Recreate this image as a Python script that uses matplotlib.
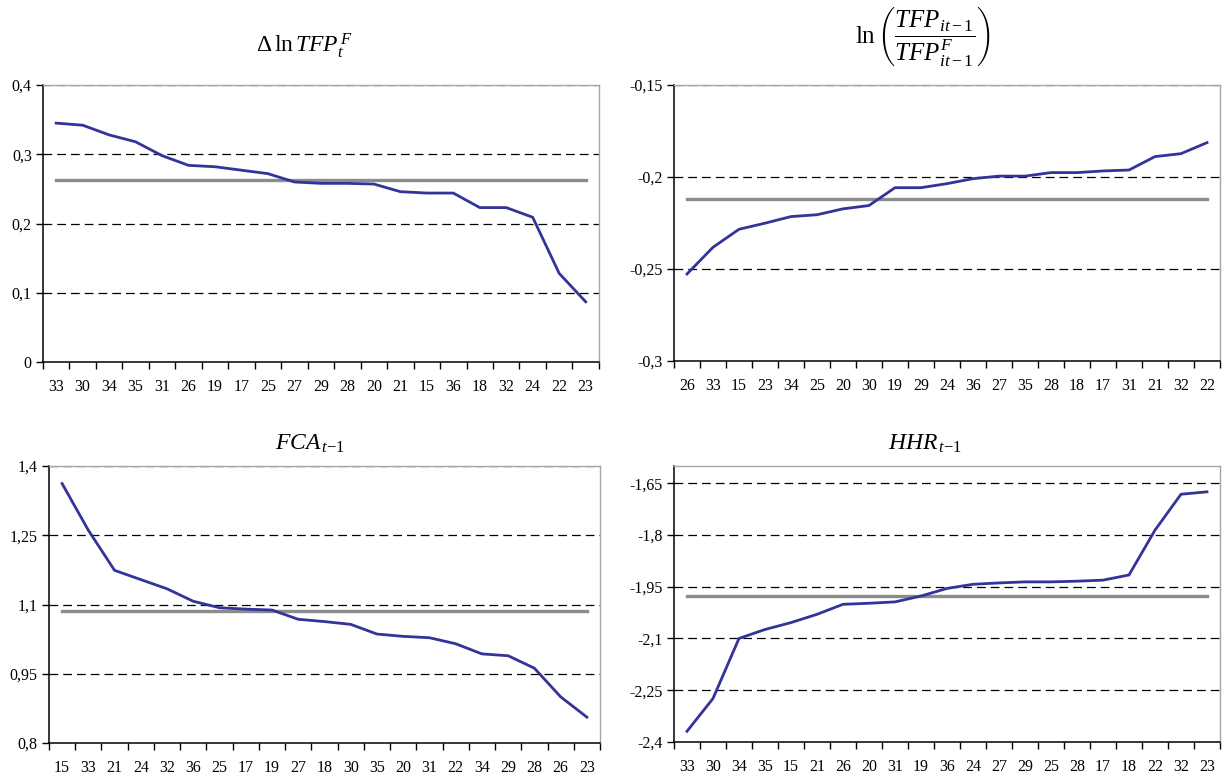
import numpy as np
import matplotlib
matplotlib.use("Agg")
import matplotlib.pyplot as plt
from matplotlib.ticker import FixedLocator, FixedFormatter

plt.rcParams['font.family'] = ['Liberation Serif', 'DejaVu Serif']
plt.rcParams['mathtext.fontset'] = 'custom'
plt.rcParams['mathtext.rm'] = 'Liberation Serif'
plt.rcParams['mathtext.it'] = 'Liberation Serif:italic'
plt.rcParams['mathtext.bf'] = 'Liberation Serif:bold'

# panel 1: d ln TFP^F
labels_tfp = ['33', '30', '34', '35', '31', '26', '19', '17', '25', '27', '29',
              '28', '20', '21', '15', '36', '18', '32', '24', '22', '23']
values_tfp = [0.345, 0.342, 0.328, 0.318, 0.298, 0.284, 0.282, 0.277, 0.272, 0.260, 0.258,
              0.258, 0.257, 0.246, 0.244, 0.244, 0.223, 0.223, 0.209, 0.128, 0.087]
mean_tfp = 0.263

# panel 2: ln(TFP / TFP^F)
labels_gap = ['26', '33', '15', '23', '34', '25', '20', '30', '19', '29', '24',
              '36', '27', '35', '28', '18', '17', '31', '21', '32', '22']
values_gap = [-0.2527, -0.2382, -0.2284, -0.2251, -0.2215, -0.2205, -0.2173, -0.2155, -0.2058, -0.2058, -0.2036,
              -0.2009, -0.1995, -0.1995, -0.1976, -0.1976, -0.1967, -0.1962, -0.1889, -0.1873, -0.1813]
mean_gap = -0.2118

# panel 3: FCA t-1
labels_fca = ['15', '33', '21', '24', '32', '36', '25', '17', '19', '27', '18',
              '30', '35', '20', '31', '22', '34', '29', '28', '26', '23']
values_fca = [1.362, 1.261, 1.174, 1.154, 1.134, 1.107, 1.093, 1.090, 1.088, 1.068, 1.063,
              1.057, 1.036, 1.031, 1.028, 1.015, 0.993, 0.989, 0.962, 0.900, 0.856]
mean_fca = 1.086

# panel 4: HHR t-1
labels_hhr = ['33', '30', '34', '35', '15', '21', '26', '20', '31', '19', '36',
              '24', '27', '29', '25', '28', '17', '18', '22', '32', '23']
values_hhr = [-2.369, -2.274, -2.100, -2.074, -2.054, -2.030, -2.001, -1.998, -1.994, -1.977, -1.955,
              -1.943, -1.939, -1.936, -1.936, -1.934, -1.931, -1.916, -1.786, -1.682, -1.675]
mean_hhr = -1.977


def fmt(v):
    s = ('%.3f' % v).rstrip('0').rstrip('.')
    if s == '-0':
        s = '0'
    return s.replace('.', ',')


def draw(ax, labels, values, mean, ymin, ymax, yticks, title, tx, tsize, tpad):
    x = np.arange(len(labels))
    for t in yticks[1:]:
        ax.axhline(t, color='black', lw=0.9, ls=(0, (7, 4)), zorder=1)
    ax.plot([x[0], x[-1]], [mean, mean], color='#8c8c8c', lw=2.4, zorder=2)
    ax.plot(x, values, color='#333399', lw=2.0, zorder=3)
    ax.set_xlim(-0.5, len(labels) - 0.5)
    ax.set_ylim(ymin, ymax)
    ax.yaxis.set_major_locator(FixedLocator(yticks))
    ax.yaxis.set_major_formatter(FixedFormatter([fmt(t) for t in yticks]))
    ax.xaxis.set_major_locator(FixedLocator(x))
    ax.xaxis.set_major_formatter(FixedFormatter(labels))
    ax.xaxis.set_minor_locator(FixedLocator(np.arange(len(labels) + 1) - 0.5))
    ax.tick_params(axis='x', which='major', length=0, pad=12, labelsize=11.5)
    ax.tick_params(axis='x', which='minor', length=5, width=1, direction='out')
    ax.tick_params(axis='y', length=5, width=1, direction='out', labelsize=11.5, pad=3)
    for s in ['left', 'bottom']:
        ax.spines[s].set_color('black')
        ax.spines[s].set_linewidth(1.1)
    for s in ['top', 'right']:
        ax.spines[s].set_color('#a6a6a6')
        ax.spines[s].set_linewidth(1.0)
    ax.set_title(title, fontsize=tsize, x=tx, pad=tpad)


fig = plt.figure(figsize=(12.27, 7.78), dpi=100)

ax1 = fig.add_axes([0.0350, 0.5347, 0.4531, 0.3560])
draw(ax1, labels_tfp, values_tfp, mean_tfp, 0, 0.4,
     [0, 0.1, 0.2, 0.3, 0.4], r'$\Delta\,\ln TFP_{t}^{\,F}$', 0.47, 17, 24)

ax2 = fig.add_axes([0.5493, 0.5360, 0.4450, 0.3547])
draw(ax2, labels_gap, values_gap, mean_gap, -0.3, -0.15,
     [-0.3, -0.25, -0.2, -0.15],
     r'$\ln\left(\dfrac{TFP_{it-1}}{TFP_{it-1}^{F}}\right)$', 0.455, 18, 30)

ax3 = fig.add_axes([0.0399, 0.0450, 0.4491, 0.3560])
draw(ax3, labels_fca, values_fca, mean_fca, 0.8, 1.4,
     [0.8, 0.95, 1.1, 1.25, 1.4], r'$FCA_{\,t\mathrm{-}1}$', 0.474, 17, 12)

ax4 = fig.add_axes([0.5493, 0.0463, 0.4450, 0.3548])
draw(ax4, labels_hhr, values_hhr, mean_hhr, -2.4, -1.6,
     [-2.4, -2.25, -2.1, -1.95, -1.8, -1.65], r'$HHR_{\,t\mathrm{-}1}$', 0.46, 17, 12)

fig.savefig('out.png', dpi=100)
